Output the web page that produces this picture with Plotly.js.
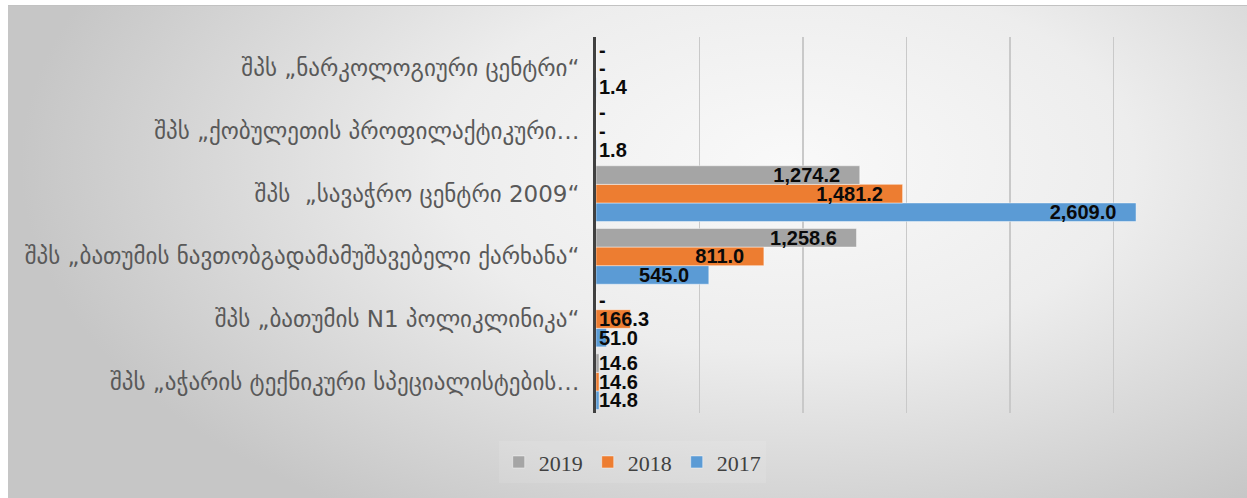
<!DOCTYPE html>
<html>
<head>
<meta charset="utf-8">
<script src="https://cdn.plot.ly/plotly-3.0.1.min.js"></script>
<style>
  html, body { margin: 0; padding: 0; background: #ffffff; }
  #frame { position: absolute; left: 8px; top: 5px; width: 1239px; height: 493px;
    border-top: 1px solid #c2c2c2;
    background: radial-gradient(ellipse 62% 85% at 63% 32%, #f9f9f9 0%, #ededed 45%, #c6c6c6 100%); }
  #chart { position: absolute; left: 0; top: 0; width: 1247px; height: 498px; }
</style>
</head>
<body>
<div id="frame"></div>
<div id="chart"></div>
<script>
// Categories, bottom to top as drawn
const categories = [
  'შპს „აჭარის ტექნიკური სპეციალისტების…',
  'შპს „ბათუმის N1 პოლიკლინიკა“',
  'შპს „ბათუმის ნავთობგადამამუშავებელი ქარხანა“',
  'შპს  „სავაჭრო ცენტრი 2009“',
  'შპს „ქობულეთის პროფილაქტიკური…',
  'შპს „ნარკოლოგიური ცენტრი“'
];
const years = ['2017', '2018', '2019'];
const values2017 = [14.8, 51.0, 545.0, 2609.0, 1.8, 1.4];
const values2018 = [14.6, 166.3, 811.0, 1481.2, 0, 0];
const values2019 = [14.6, 0, 1258.6, 1274.2, 0, 0];
const colors = { '2017': '#5B9BD5', '2018': '#ED7D31', '2019': '#A5A5A5' };
const xTicks = [0, 500, 1000, 1500, 2000, 2500, 3000];

const seriesValues = { '2017': values2017, '2018': values2018, '2019': values2019 };

function fmt(v) {
  if (v === 0) return '-';
  return v.toLocaleString('en-US', { minimumFractionDigits: 1, maximumFractionDigits: 1 });
}
const insideMin = 500;
const labelFont = { family: 'Liberation Sans, Arial, sans-serif', size: 20, color: '#0a0a0a', weight: 'bold' };

const traces = [];
years.forEach(y => {
  const vals = seriesValues[y];
  traces.push({
    type: 'bar', orientation: 'h', name: y, y: categories, x: vals,
    offsetgroup: y,
    marker: { color: colors[y], line: { color: 'rgba(255,255,255,0.45)', width: 1 } },
    hoverinfo: 'x+name'
  });
  traces.push({
    type: 'bar', orientation: 'h', name: y + ' labels', y: categories,
    x: vals.map(v => v >= insideMin ? v : 0),
    offsetgroup: y, showlegend: false, hoverinfo: 'skip',
    marker: { color: 'rgba(0,0,0,0)' },
    text: vals.map(v => v >= insideMin ? fmt(v) + '\u00a0\u00a0\u00a0' : fmt(v)),
    textposition: vals.map(v => v >= insideMin ? 'inside' : 'outside'),
    insidetextanchor: 'end',
    constraintext: 'none',
    cliponaxis: false,
    textfont: labelFont, insidetextfont: labelFont, outsidetextfont: labelFont
  });
});

const layout = {
  width: 1247, height: 498,
  paper_bgcolor: 'rgba(0,0,0,0)', plot_bgcolor: 'rgba(0,0,0,0)',
  margin: { l: 596, r: 30, t: 37, b: 85 },
  barmode: 'group', bargap: 0.11, bargroupgap: 0,
  xaxis: {
    range: [0, 3000], tickvals: xTicks, showticklabels: false,
    showgrid: true, gridcolor: '#c9c9c9', gridwidth: 1.5, zeroline: false, showline: false, fixedrange: true
  },
  yaxis: {
    type: 'category', categoryarray: categories, categoryorder: 'array',
    showline: true, linecolor: '#404040', linewidth: 3, ticks: '', showgrid: false,
    ticklabelstandoff: 9,
    tickfont: { family: 'DejaVu Sans, sans-serif', size: 23, color: '#595959' },
    automargin: false, fixedrange: true
  },
  showlegend: true,
  legend: {
    orientation: 'h', traceorder: 'reversed',
    xref: 'container', yref: 'container', x: 0.507, y: 0.072, xanchor: 'center', yanchor: 'middle',
    font: { family: 'Liberation Serif, DejaVu Serif, serif', size: 22, color: '#404040' },
    bgcolor: 'rgba(255,255,255,0.1)', itemwidth: 30
  }
};

Plotly.newPlot('chart', traces, layout, { displayModeBar: false, staticPlot: true });
</script>
</body>
</html>
